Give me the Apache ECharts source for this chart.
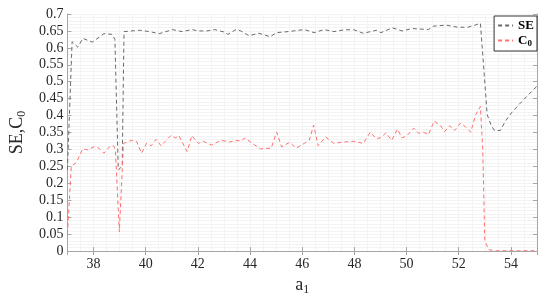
<!DOCTYPE html>
<html>
<head>
<meta charset="utf-8">
<script src="https://cdn.jsdelivr.net/npm/echarts@6/dist/echarts.min.js"></script>
<style>
    html, body { margin: 0; padding: 0; background: #fff; }
    #app { width: 550px; height: 301px; }
</style>
</head>
<body>
<div id="app"></div>
<script>
// SE 曲线
let seX = [37, 37.18, 37.4, 37.59, 37.96, 38.4, 38.71, 38.82, 38.95, 39.1, 39.17, 39.77, 40.15, 40.52, 40.78, 41.02, 41.4, 41.77, 42.02, 42.34, 42.65, 43.0, 43.15, 43.46, 43.65, 43.96, 44.34, 44.77, 45.02, 45.46, 46.08, 46.46, 46.84, 47.21, 47.59, 47.96, 48.34, 48.84, 49.02, 49.46, 49.83, 50.21, 50.84, 51.02, 51.52, 51.96, 52.34, 52.59, 52.83, 52.95, 53.09, 53.25, 53.37, 53.59, 53.8, 54.02, 54.3, 54.65, 55];
let seY = [0.24, 0.618, 0.602, 0.628, 0.617, 0.642, 0.640, 0.625, 0.24, 0.25, 0.648, 0.652, 0.648, 0.642, 0.648, 0.654, 0.648, 0.654, 0.650, 0.650, 0.654, 0.647, 0.640, 0.654, 0.650, 0.636, 0.643, 0.633, 0.645, 0.648, 0.654, 0.645, 0.654, 0.648, 0.653, 0.654, 0.643, 0.652, 0.645, 0.659, 0.650, 0.657, 0.654, 0.664, 0.667, 0.661, 0.661, 0.666, 0.673, 0.55, 0.403, 0.37, 0.356, 0.356, 0.385, 0.408, 0.432, 0.46, 0.487];
// C0 曲线
let c0X = [37, 37.15, 37.34, 37.59, 37.78, 38.02, 38.21, 38.40, 38.65, 38.77, 38.84, 38.99, 39.15, 39.46, 39.65, 39.84, 40.03, 40.21, 40.40, 40.59, 40.96, 41.15, 41.27, 41.59, 41.77, 42.02, 42.21, 42.52, 42.90, 43.21, 43.46, 43.65, 43.81, 44.09, 44.40, 44.81, 45.02, 45.21, 45.52, 45.77, 46.08, 46.27, 46.44, 46.61, 46.90, 47.21, 47.59, 47.96, 48.34, 48.61, 48.84, 49.02, 49.21, 49.43, 49.65, 49.83, 50.02, 50.27, 50.46, 50.65, 50.84, 51.06, 51.28, 51.46, 51.65, 51.84, 52.07, 52.24, 52.46, 52.65, 52.83, 52.92, 53.0, 53.15, 53.4, 55];
let c0Y = [0.05, 0.251, 0.261, 0.302, 0.299, 0.308, 0.304, 0.289, 0.311, 0.311, 0.299, 0.057, 0.318, 0.327, 0.324, 0.289, 0.318, 0.311, 0.330, 0.311, 0.341, 0.334, 0.341, 0.294, 0.341, 0.318, 0.324, 0.313, 0.327, 0.322, 0.327, 0.325, 0.334, 0.318, 0.302, 0.304, 0.351, 0.308, 0.321, 0.304, 0.318, 0.327, 0.372, 0.311, 0.337, 0.318, 0.322, 0.324, 0.318, 0.351, 0.332, 0.335, 0.349, 0.327, 0.360, 0.334, 0.341, 0.363, 0.348, 0.351, 0.344, 0.384, 0.372, 0.353, 0.370, 0.356, 0.378, 0.368, 0.351, 0.403, 0.427, 0.3, 0.03, 0.004, 0.001, 0.001];

let pairs = (xs, ys) => xs.map((x, i) => [x, ys[i]]);

let font = "'Liberation Serif', 'Times New Roman', serif";
let axisGray = "#a6a6a6";
let seColor = "#6a6a6a";
let c0Color = "#ff7070";

let myChart = echarts.init(document.querySelector("#app"));
myChart.setOption({
    animation: false,
    backgroundColor: "#fff",
    grid: {left: 56, right: 13, top: 14, bottom: 41},
    // 图例
    legend: {
        orient: "vertical",
        right: 13,
        top: 16,
        itemWidth: 15,
        itemHeight: 8,
        itemGap: 2,
        padding: [3, 3, 3, 3],
        borderColor: "#333",
        borderWidth: 1,
        backgroundColor: "#fff",
        // 隐藏图例中的圆点
        itemStyle: {opacity: 0},
        formatter: (name) => name === "C0" ? "{b|C}{s|0}" : "{b|SE}",
        textStyle: {
            fontFamily: font,
            rich: {
                b: {fontFamily: font, fontWeight: "bold", fontSize: 13, color: "#000"},
                s: {fontFamily: font, fontWeight: "bold", fontSize: 9, color: "#000", verticalAlign: "bottom", padding: [6, 0, 0, 0]}
            }
        },
        data: ["SE", "C0"]
    },
    xAxis: [
        {
            type: "value",
            min: 37,
            max: 55,
            splitNumber: 9,
            name: "a{s|1}",
            nameLocation: "middle",
            nameGap: 19,
            nameTextStyle: {
                fontFamily: font, fontSize: 18, color: "#262626",
                rich: {s: {fontFamily: font, fontSize: 12, color: "#262626", verticalAlign: "bottom", padding: [10, 0, 0, 0]}}
            },
            axisLine: {lineStyle: {color: axisGray}},
            axisTick: {inside: true, length: 4, lineStyle: {color: axisGray}},
            axisLabel: {showMinLabel: false, showMaxLabel: false, fontFamily: font, fontSize: 14, color: "#262626", margin: 6},
            splitLine: {lineStyle: {color: "#e6e6e6"}}
        },
        {
            // 上方边框
            type: "value", position: "top", min: 37, max: 55, splitNumber: 9,
            axisLine: {lineStyle: {color: axisGray}},
            axisTick: {inside: true, length: 4, lineStyle: {color: axisGray}},
            axisLabel: {show: false},
            splitLine: {show: false}
        },
        {
            // 次网格
            type: "value", min: 37, max: 55, interval: 0.5, show: true,
            axisLine: {show: false}, axisTick: {show: false}, axisLabel: {show: false},
            splitLine: {lineStyle: {color: "#f3f3f3"}}, z: 0
        }
    ],
    yAxis: [
        {
            type: "value",
            min: 0,
            max: 0.7,
            interval: 0.05,
            name: "SE,C{s|0}",
            nameLocation: "middle",
            nameGap: 36,
            nameRotate: 90,
            nameTextStyle: {
                fontFamily: font, fontSize: 18, color: "#262626",
                rich: {s: {fontFamily: font, fontSize: 12, color: "#262626", verticalAlign: "bottom", padding: [10, 0, 0, 0]}}
            },
            axisLine: {show: true, lineStyle: {color: axisGray}},
            axisTick: {show: true, inside: true, length: 4, lineStyle: {color: axisGray}},
            axisLabel: {fontFamily: font, fontSize: 14, color: "#262626", margin: 4},
            splitLine: {lineStyle: {color: "#e6e6e6"}}
        },
        {
            // 右侧边框
            type: "value", position: "right", min: 0, max: 0.7, interval: 0.05,
            axisLine: {show: true, lineStyle: {color: axisGray}},
            axisTick: {show: true, inside: true, length: 4, lineStyle: {color: axisGray}},
            axisLabel: {show: false},
            splitLine: {show: false}
        },
        {
            // 次网格
            type: "value", min: 0, max: 0.7, interval: 0.01,
            axisLine: {show: false}, axisTick: {show: false}, axisLabel: {show: false},
            splitLine: {lineStyle: {color: "#f3f3f3"}}, z: 0
        }
    ],
    series: [
        {
            name: "SE",
            type: "line",
            symbol: "none",
            data: pairs(seX, seY),
            lineStyle: {color: seColor, width: 1, type: [4, 3]},
            itemStyle: {color: seColor},
            z: 3
        },
        {
            name: "C0",
            type: "line",
            symbol: "none",
            data: pairs(c0X, c0Y),
            lineStyle: {color: c0Color, width: 1, type: [4, 3]},
            itemStyle: {color: c0Color},
            z: 3
        }
    ]
});
</script>
</body>
</html>
